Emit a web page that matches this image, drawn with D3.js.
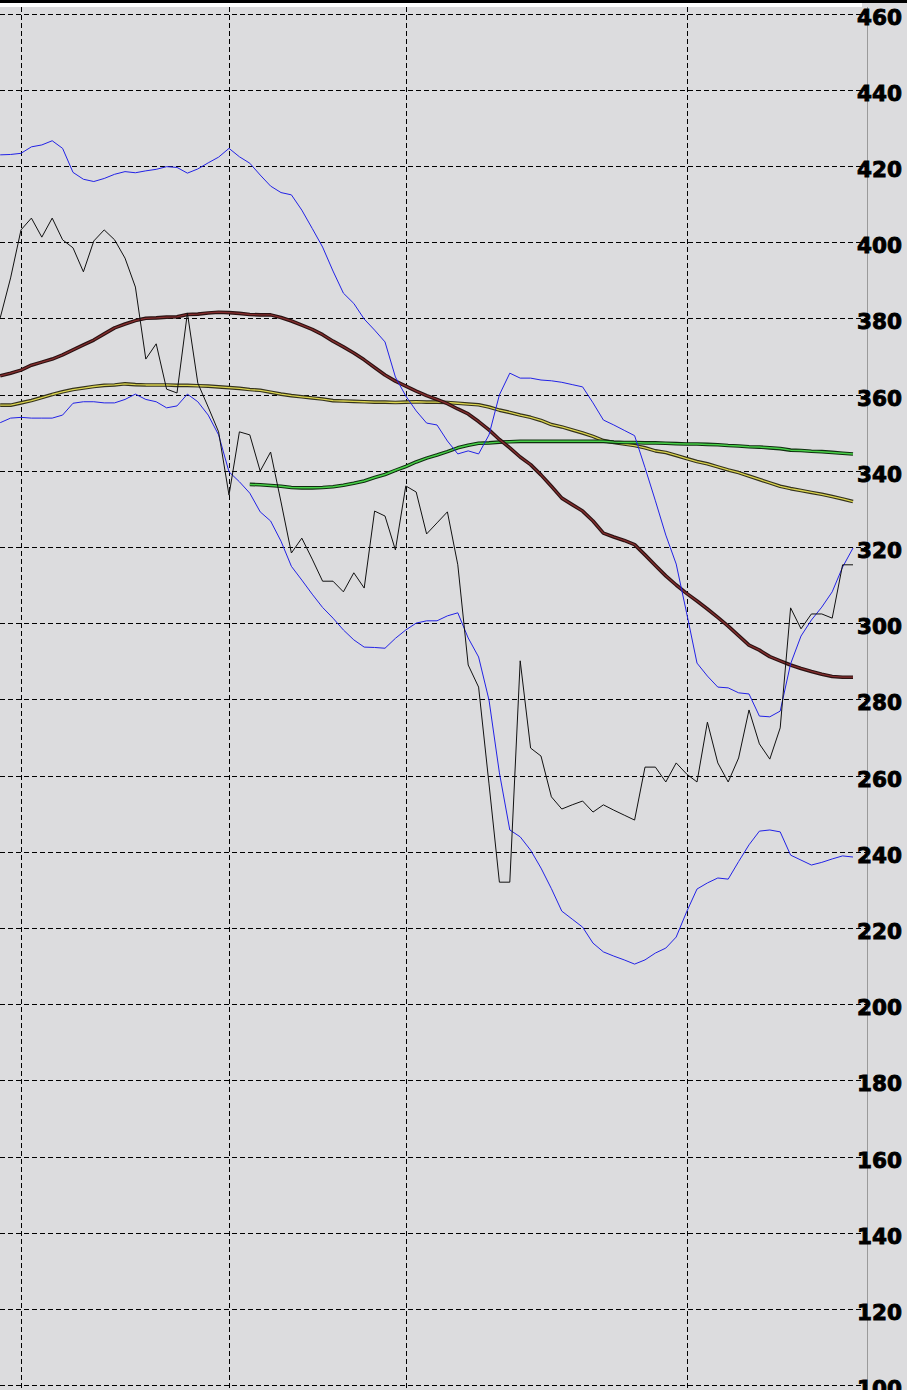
<!DOCTYPE html>
<html>
<head>
<meta charset="utf-8">
<script src="https://cdn.jsdelivr.net/npm/d3@7"></script>
<style>
html,body{margin:0;padding:0;background:#dcdcde;overflow:hidden;}
svg{display:block;}
</style>
</head>
<body>
<svg id="chart" width="907" height="1390"></svg>
<script>
// ---- data (index-based x, values in price units) ----
const closeVals = [380.1,390.6,403.2,406.3,401.3,406.3,400.6,398.5,392.2,400.3,
403.2,400.6,395.8,388.2,369.3,373.3,361.4,360.4,381.4,363.0,
356.7,350.2,333.6,350.2,349.4,339.9,344.9,331.8,318.4,322.3,
316.8,311.0,311.0,308.2,313.2,309.2,329.4,328.1,319.2,336.0,
334.4,323.4,326.3,329.2,315.3,289.0,283.2,257.8,232.0,232.0,
290.1,267.2,265.1,254.4,251.2,252.3,253.3,250.4,252.3,250.9,
249.6,248.3,262.2,262.2,258.3,263.3,260.4,258.3,274.0,263.3,
258.3,264.6,277.2,268.3,264.3,272.5,304.0,298.5,302.4,302.4,
301.3,315.3,315.3];

const upperBand = [422.9,423.0,423.3,425.0,425.5,426.6,424.6,418.3,416.5,415.9,
416.7,417.8,418.5,418.2,418.7,419.1,419.8,419.6,418.1,419.2,
420.8,422.3,424.6,422.4,420.7,417.6,414.7,413.0,412.4,408.4,
403.6,398.7,392.4,386.6,383.9,379.8,376.9,373.8,364.6,359.6,
355.7,352.5,352.0,347.8,344.4,345.2,344.4,349.4,359.9,365.6,
364.3,364.3,363.8,363.6,363.2,362.6,362.0,357.8,353.3,352.0,
350.6,349.2,340.8,332.1,323.1,315.5,302.7,289.5,286.1,283.2,
283.0,281.7,281.4,275.6,275.4,276.9,289.3,296.6,300.8,304.2,
308.2,314.7,319.7];

const lowerBand = [352.6,353.8,354.0,353.8,353.8,353.8,354.6,357.7,358.1,358.1,
357.8,357.8,358.7,360.1,358.7,358.1,356.5,357.0,360.1,358.1,
354.6,349.4,339.7,337.1,334.1,329.2,326.8,321.5,314.9,311.3,
307.6,304.1,301.3,298.2,295.6,293.7,293.6,293.4,296.0,298.2,
300.0,300.6,300.6,301.9,302.7,296.1,291.1,279.8,260.7,245.7,
243.9,240.4,235.7,230.3,224.4,222.3,220.2,216.0,213.7,212.6,
211.6,210.5,211.6,213.4,214.7,217.6,224.2,230.2,231.8,233.1,
232.8,237.4,241.8,245.4,245.7,245.2,239.1,237.8,236.5,237.2,
238.1,238.9,238.6];

const maBrown = [364.9,365.6,366.4,367.7,368.5,369.3,370.4,371.7,373.0,374.3,
375.9,377.5,378.5,379.4,380.0,380.1,380.3,380.4,381.0,381.1,
381.4,381.6,381.5,381.3,381.0,380.9,380.9,380.2,379.3,378.2,
377.1,375.7,374.0,372.5,370.9,369.1,367.1,365.1,363.5,362.2,
360.9,359.7,358.7,357.6,356.2,354.9,352.9,350.7,348.2,346.0,
343.6,341.6,338.9,335.9,332.8,331.1,329.4,326.8,323.6,322.6,
321.7,320.6,317.9,315.1,312.4,310.0,307.8,305.8,303.7,301.5,
299.2,296.7,294.2,292.9,291.2,290.1,289.0,288.1,287.3,286.6,
286.0,285.8,285.8];

const maOlive = [357.2,357.2,357.8,358.4,359.2,360.0,360.7,361.3,361.7,362.1,
362.4,362.5,362.8,362.6,362.5,362.5,362.5,362.4,362.4,362.3,
362.2,362.0,361.8,361.6,361.3,361.1,360.6,360.1,359.7,359.4,
359.1,358.8,358.4,358.3,358.2,358.1,358.0,358.0,357.9,358.0,
358.1,358.0,358.0,357.9,357.7,357.5,357.3,356.7,355.9,355.3,
354.6,354.0,353.2,352.1,351.5,350.7,349.9,349.0,347.9,347.4,
347.0,346.6,346.0,345.2,344.8,344.0,343.2,342.4,341.8,341.0,
340.2,339.5,338.6,337.7,336.8,335.9,335.3,334.8,334.3,333.8,
333.2,332.6,331.9];

const maGreen = [null,null,null,null,null,null,null,null,null,null,
null,null,null,null,null,null,null,null,null,null,
null,null,null,null,336.4,336.3,336.1,335.9,335.6,335.5,
335.5,335.6,335.8,336.2,336.7,337.3,338.2,339.0,340.1,341.1,
342.3,343.3,344.1,345.0,346.0,346.7,347.2,347.3,347.5,347.6,
347.7,347.7,347.7,347.7,347.7,347.7,347.7,347.7,347.7,347.5,
347.4,347.4,347.3,347.3,347.2,347.1,347.0,347.0,346.9,346.8,
346.6,346.5,346.3,346.2,346.0,345.8,345.4,345.3,345.1,345.0,
344.8,344.6,344.4];

const yTickValues = [460,440,420,400,380,360,340,320,300,280,260,240,220,200,180,160,140,120,100];
const xGridIndex = [2,22,39,66];

// ---- drawing ----
const W = 907, H = 1390;
const svg = d3.select("#chart");
const axisX = 867.5;

const x = d3.scaleLinear().domain([0, closeVals.length - 1]).range([0.2, 853]);
const y = d3.scaleLinear().domain([100, 460]).range([1385.1, 13.5]);

svg.append("rect").attr("x",0).attr("y",0).attr("width",W).attr("height",H).attr("fill","#dcdcde");

// gridlines
const grid = svg.append("g");
grid.selectAll("line.h").data(yTickValues).join("line")
  .attr("x1",0).attr("x2",axisX)
  .attr("y1",d=>Math.round(y(d))+0.5).attr("y2",d=>Math.round(y(d))+0.5)
  .attr("stroke","#000").attr("stroke-width",1).attr("stroke-dasharray","5,3");
grid.selectAll("line.v").data(xGridIndex).join("line")
  .attr("x1",d=>Math.round(x(d))+0.5).attr("x2",d=>Math.round(x(d))+0.5)
  .attr("y1",7).attr("y2",H)
  .attr("stroke","#000").attr("stroke-width",1).attr("stroke-dasharray","5,3");

// axis line
svg.append("line").attr("x1",axisX).attr("x2",axisX).attr("y1",7).attr("y2",H)
  .attr("stroke","#9a9a9a").attr("stroke-width",1);

// top frame
svg.append("rect").attr("x",0).attr("y",0).attr("width",W).attr("height",3).attr("fill","#000");
svg.append("rect").attr("x",0).attr("y",3).attr("width",862).attr("height",4).attr("fill","#ffffff");

const lineGen = d3.line().defined(d=>d!=null).x((d,i)=>x(i)).y(d=>y(d));
function doubleLine(data, outer, inner, innerW){
  svg.append("path").datum(data).attr("d", lineGen).attr("fill","none")
    .attr("stroke",outer).attr("stroke-width",3.6).attr("stroke-linejoin","round");
  svg.append("path").datum(data).attr("d", lineGen).attr("fill","none")
    .attr("stroke",inner).attr("stroke-width",innerW).attr("stroke-linejoin","round");
}
doubleLine(maOlive, "#34321c", "#dcd550", 1.3);
doubleLine(maGreen, "#0f2e0f", "#48d048", 1.5);
doubleLine(maBrown, "#2a1212", "#862e2e", 1.3);

function thinLine(data, color){
  svg.append("path").datum(data).attr("d", lineGen).attr("fill","none")
    .attr("stroke",color).attr("stroke-width",1);
}
thinLine(upperBand, "#2222e6");
thinLine(lowerBand, "#2222e6");
thinLine(closeVals, "#111111");

// y labels on right
svg.append("g").selectAll("text").data(yTickValues).join("text")
  .attr("x",857).attr("y",d=>y(d)+11)
  .attr("font-family","DejaVu Sans").attr("font-weight","bold").attr("font-size",21.5)
  .attr("fill","#000").attr("stroke","#000").attr("stroke-width",0.9)
  .text(d=>d);
</script>
</body>
</html>
